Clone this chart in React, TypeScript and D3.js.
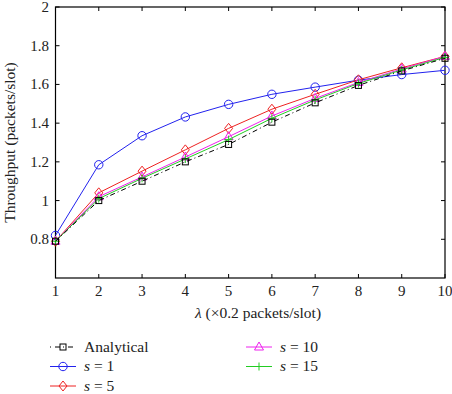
import React from "react";
import * as d3 from "d3";

const lambdas = [1, 2, 3, 4, 5, 6, 7, 8, 9, 10];
const analytical = [0.79, 1.0, 1.1, 1.2, 1.29, 1.405, 1.505, 1.595, 1.67, 1.735];
const s1 = [0.82, 1.185, 1.335, 1.432, 1.497, 1.549, 1.586, 1.622, 1.651, 1.673];
const s5 = [0.79, 1.04, 1.152, 1.262, 1.373, 1.472, 1.549, 1.624, 1.686, 1.745];
const s10 = [0.79, 1.02, 1.122, 1.225, 1.33, 1.437, 1.528, 1.61, 1.68, 1.745];
const s15 = [0.79, 1.01, 1.115, 1.215, 1.315, 1.425, 1.52, 1.605, 1.675, 1.74];
const yTicks = [0.8, 1, 1.2, 1.4, 1.6, 1.8, 2];

type Marker = "square" | "circle" | "diamond" | "triangle" | "plus";
interface Series {
  label: string;
  values: number[];
  color: string;
  marker: Marker;
  dash?: string;
}

const series: Series[] = [
  { label: "Analytical", values: analytical, color: "#000000", marker: "square", dash: "5,3,1,3" },
  { label: "s = 1", values: s1, color: "#2222ee", marker: "circle" },
  { label: "s = 5", values: s5, color: "#ee2222", marker: "diamond" },
  { label: "s = 10", values: s10, color: "#ee22ee", marker: "triangle" },
  { label: "s = 15", values: s15, color: "#22cc22", marker: "plus" },
];

const FONT = "'Liberation Serif', 'DejaVu Serif', serif";

const margin = { left: 55.5, right: 445, top: 7, bottom: 278 };

function MarkerShape({ type, x, y, color }: { type: Marker; x: number; y: number; color: string }) {
  const common = { fill: "none", stroke: color, strokeWidth: 1 };
  switch (type) {
    case "square":
      return <rect x={x - 3} y={y - 3} width={6} height={6} {...common} />;
    case "circle":
      return <circle cx={x} cy={y} r={4.2} {...common} />;
    case "diamond":
      return <path d={`M${x},${y - 5}L${x + 4},${y}L${x},${y + 5}L${x - 4},${y}Z`} {...common} />;
    case "triangle":
      return <path d={`M${x},${y - 5}L${x + 4.5},${y + 3}L${x - 4.5},${y + 3}Z`} {...common} />;
    case "plus":
      return <path d={`M${x - 4},${y}H${x + 4}M${x},${y - 4}V${y + 4}`} {...common} />;
  }
}

function Label({ text, x, y }: { text: string; x: number; y: number }) {
  if (text.startsWith("s = ")) {
    return (
      <text x={x} y={y} fontFamily={FONT} fontSize={15.5} fill="#222">
        <tspan fontStyle="italic">s</tspan>
        {" = " + text.slice(4)}
      </text>
    );
  }
  return (
    <text x={x} y={y} fontFamily={FONT} fontSize={15.5} fill="#222">
      {text}
    </text>
  );
}

export default function App() {
  const x = d3.scaleLinear().domain([1, 10]).range([margin.left, margin.right]);
  const y = d3.scaleLinear().domain([0.6, 2]).range([margin.bottom, margin.top]);
  const line = d3
    .line<number>()
    .x((_, i) => x(lambdas[i]))
    .y((d) => y(d));

  const legendPos = [
    { lx: 50, ly: 347 },
    { lx: 50, ly: 366.5 },
    { lx: 50, ly: 386 },
    { lx: 246, ly: 347 },
    { lx: 246, ly: 366.5 },
  ];

  return (
    <svg width={452} height={394} style={{ position: "absolute", left: 0, top: 0 }}>
      <rect width={452} height={394} fill="#fff" />
      {/* ticks, inward on all four sides */}
      {lambdas.map((v) => (
        <g key={"xt" + v}>
          <line x1={x(v)} x2={x(v)} y1={margin.bottom} y2={margin.bottom - 4} stroke="#000" />
          <line x1={x(v)} x2={x(v)} y1={margin.top} y2={margin.top + 4} stroke="#000" />
          <text x={x(v)} y={296} textAnchor="middle" fontFamily={FONT} fontSize={15} fill="#222">
            {v}
          </text>
        </g>
      ))}
      {yTicks.map((v) => (
        <g key={"yt" + v}>
          <line x1={margin.left} x2={margin.left + 4} y1={y(v)} y2={y(v)} stroke="#000" />
          <line x1={margin.right} x2={margin.right - 4} y1={y(v)} y2={y(v)} stroke="#000" />
          <text x={49} y={y(v) + 5} textAnchor="end" fontFamily={FONT} fontSize={15} fill="#222">
            {v}
          </text>
        </g>
      ))}
      <rect
        x={margin.left}
        y={margin.top}
        width={margin.right - margin.left}
        height={margin.bottom - margin.top}
        fill="none"
        stroke="#000"
        strokeWidth={1.2}
      />
      {/* series, analytical drawn on top */}
      {[...series.slice(1), series[0]].map((s) => (
        <g key={s.label}>
          <path d={line(s.values) ?? ""} fill="none" stroke={s.color} strokeWidth={1} strokeDasharray={s.dash} />
          {s.values.map((v, i) => (
            <MarkerShape key={i} type={s.marker} x={x(lambdas[i])} y={y(v)} color={s.color} />
          ))}
        </g>
      ))}
      {/* axis titles */}
      <text
        transform={`translate(15,${(margin.top + margin.bottom) / 2}) rotate(-90)`}
        textAnchor="middle"
        fontFamily={FONT}
        fontSize={15.5}
        fill="#222"
      >
        Throughput (packets/slot)
      </text>
      <text x={258} y={318} textAnchor="middle" fontFamily={FONT} fontSize={15.5} fill="#222">
        <tspan fontStyle="italic">λ</tspan> (×0.2 packets/slot)
      </text>
      {/* legend */}
      {series.map((s, i) => {
        const { lx, ly } = legendPos[i];
        return (
          <g key={"lg" + s.label}>
            <line x1={lx} x2={lx + 26} y1={ly} y2={ly} stroke={s.color} strokeDasharray={s.dash ? "1,4,5,3" : undefined} />
            <MarkerShape type={s.marker} x={lx + 13} y={ly} color={s.color} />
            <Label text={s.label} x={lx + 34} y={ly + 4.5} />
          </g>
        );
      })}
    </svg>
  );
}
